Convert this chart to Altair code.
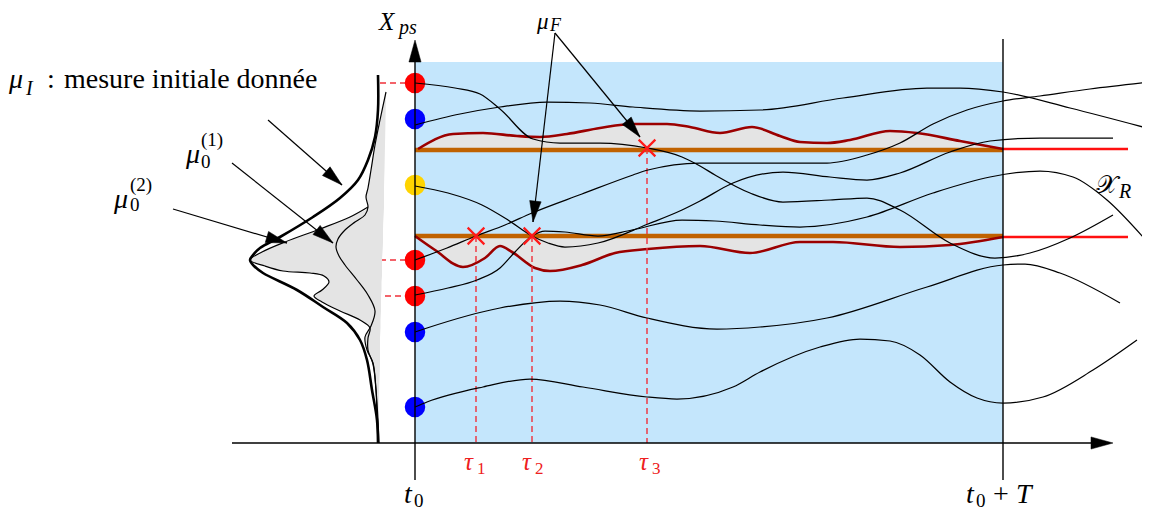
import altair as alt
import pandas as pd
import numpy as np

# ------------------------------------------------------------------
# Picture coordinates: x = pixels from the left, y = pixels from the top
# ------------------------------------------------------------------
W, H = 1134, 504          # plot area (page margin 8px)
T0_X, TT_X = 415, 1003    # t0 and t0+T
BASE_Y, TOP_Y = 443, 62   # time axis level, top of admissible region
BAND_LEVELS = [150, 236]  # the two target levels (orange)

# trajectories starting from the initial points
R1_x = [415, 455, 480, 500, 533, 560, 600, 647, 682, 700, 715, 750, 783, 830, 867, 900, 950, 995, 1030, 1070, 1113]
R1_y = [83, 88, 94, 109, 139, 143, 143, 148, 157, 166, 175, 193, 202, 200, 198, 210, 243, 258, 253, 238, 215]
B1_x = [415, 460, 500, 547, 590, 633, 700, 760, 843, 927, 960, 1003, 1070, 1143]
B1_y = [125, 114, 107, 102, 103, 107, 111, 110, 98, 88, 88, 92, 108, 127]
Y1_x = [415, 448, 482, 508, 532, 548, 565, 598, 648, 682, 700, 733, 783, 830, 867, 900, 950, 990, 1040, 1113]
Y1_y = [186, 193, 205, 220, 236, 243, 247, 243, 224, 210, 201, 183, 172, 177, 180, 173, 152, 141, 138, 138]
R2_x = [415, 447, 476, 505, 532, 582, 633, 648, 700, 780, 827, 867, 900, 933, 967, 1003, 1040, 1090, 1150]
R2_y = [260, 248, 236, 225, 213, 194, 175, 170, 163, 163, 163, 155, 143, 124, 110, 101, 96, 89, 82]
R3_x = [415, 448, 477, 500, 515, 532, 545, 565, 598, 632, 682, 715, 760, 800, 867, 933, 990, 1040, 1073, 1107, 1143]
R3_y = [295, 288, 280, 268, 252, 236, 231, 232, 236, 230, 220, 221, 225, 227, 217, 193, 177, 171, 177, 200, 237]
B2_x = [415, 427, 500, 560, 600, 647, 717, 760, 827, 927, 1003, 1025, 1060, 1120]
B2_y = [332, 328, 308, 301, 305, 318, 329, 327, 318, 287, 265, 264, 273, 303]
B3_x = [415, 427, 483, 530, 583, 647, 677, 733, 760, 820, 860, 890, 920, 950, 977, 1003, 1043, 1093, 1137]
B3_y = [407, 402, 387, 379, 387, 397, 399, 387, 372, 347, 339, 341, 355, 382, 398, 403, 397, 370, 340]

# boundaries of the two reachable sets (dark red)
UP_x = [418, 453, 483, 517, 540, 567, 600, 633, 667, 690, 720, 752, 780, 800, 827, 850, 890, 917, 960, 1003]
UP_y = [149, 134, 133, 136, 137, 134, 128, 124, 124, 127, 133, 127, 136, 142, 143, 140, 131, 133, 141, 149]
LO_x = [415, 435, 463, 485, 500, 512, 535, 550, 582, 615, 648, 700, 750, 800, 833, 900, 950, 1003]
LO_y = [236, 250, 267, 258, 246, 252, 268, 271, 265, 253, 249, 246, 253, 242, 242, 247, 245, 237]

# initial points on the X_ps axis
DOT_y = [83, 119, 185, 260, 296, 332, 407]
DOT_kind = ["cible", "libre", "autre", "cible", "cible", "libre", "libre"]

# hitting points and times
HIT_x = [476, 532, 647]
HIT_y = [236, 236, 148]

# initial measures (densities drawn along the X_ps axis)
MUI_x = [378, 378, 375, 368, 358, 340, 313, 280, 260, 253, 250, 254, 263, 297, 323, 347, 360, 367, 372, 377, 378]
MUI_y = [75, 110, 137, 160, 180, 198, 217, 237, 248, 255, 260, 266, 273, 290, 307, 323, 340, 360, 390, 420, 443]
MU1_x = [386, 380, 375, 371, 368, 366, 368, 365, 355, 345, 338, 336, 339, 345, 357, 368, 375, 371, 365, 367, 373, 376, 378, 379]
MU1_y = [92, 120, 145, 170, 188, 197, 207, 215, 222, 230, 239, 247, 256, 265, 280, 295, 311, 326, 337, 350, 363, 390, 420, 443]
MU2_x = [368, 350, 320, 285, 262, 250, 265, 283, 310, 324, 329, 322, 314, 322, 340, 360, 370, 368, 368, 373, 376, 377, 378]
MU2_y = [207, 217, 229, 242, 252, 260, 266, 271, 273, 276, 282, 290, 296, 302, 311, 320, 328, 338, 350, 364, 390, 420, 443]
GRAY_y = [92, 120, 145, 170, 188, 197, 207, 217, 229, 242, 252, 260, 266, 271, 273, 276, 282, 290, 296, 302, 311, 320, 328, 338, 350, 364, 390, 420]
GRAY_xl = [386, 380, 375, 371, 368, 366, 368, 350, 320, 285, 262, 250, 265, 283, 310, 324, 329, 322, 314, 322, 340, 360, 370, 365, 367, 373, 376, 378]
GRAY_xr = [386, 385.5, 385, 384.5, 384, 384, 384, 383.5, 383, 383, 382.5, 382, 382, 382, 382, 382, 381.5, 381.5, 381, 381, 381, 380.5, 380.5, 380, 380, 380, 379, 378.5]

# annotation arrows (start -> tip)
ARROWS = [(268, 120, 342, 185), (232, 163, 333, 243), (173, 209, 287, 243),
          (555, 33, 640, 137), (555, 33, 533, 222)]
AXIS_ARROWS = [(415, 80, 415, 40), (1080, 443, 1113, 443)]

# ------------------------------------------------------------------
XS = alt.Scale(domain=[8, 8 + W], nice=False, zero=False)
YS = alt.Scale(domain=[8, 8 + H], nice=False, zero=False, reverse=True)


def X(f="x"):
    return alt.X(f"{f}:Q", scale=XS, axis=None)


def Y(f="y"):
    return alt.Y(f"{f}:Q", scale=YS, axis=None)


def lines_df(d):
    rows = []
    for name, (xs, ys) in d.items():
        for i, (a, b) in enumerate(zip(xs, ys)):
            rows.append({"id": name, "o": i, "x": a, "y": b})
    return pd.DataFrame(rows)


def rules(rows, **kw):
    df = pd.DataFrame(rows, columns=["x", "y", "x2", "y2"])
    return alt.Chart(df).mark_rule(**kw).encode(
        x=X(), y=Y(), x2="x2:Q", y2="y2:Q")


ARROW_PATH = "M0,0L0.55,2L-0.55,2Z"


def heads(arr, size):
    rows = []
    for (x1, y1, x2, y2) in arr:
        ang = (np.degrees(np.arctan2(x2 - x1, -(y2 - y1))) + 360) % 360
        rows.append({"x": x2, "y": y2, "a": float(ang)})
    return alt.Chart(pd.DataFrame(rows)).mark_point(
        shape=ARROW_PATH, filled=True, fill="black", stroke="black",
        strokeWidth=0.5, opacity=1, size=size
    ).encode(x=X(), y=Y(), angle=alt.Angle("a:Q", scale=None))


def texts(rows, size, italic=False, color="black", font="Liberation Serif"):
    df = pd.DataFrame(rows, columns=["t", "x", "y"])
    kw = dict(font=font, fontSize=size, color=color, align="left",
              baseline="alphabetic")
    if italic:
        kw["fontStyle"] = "italic"
    return alt.Chart(df).mark_text(**kw).encode(x=X(), y=Y(), text="t:N")


# background region
rect = alt.Chart(pd.DataFrame({"x": [T0_X], "x2": [TT_X], "y": [TOP_Y], "y2": [BASE_Y]})).mark_rect(
    color="#c4e6fc").encode(x=X(), x2="x2:Q", y=Y(), y2="y2:Q")

# gray bands between the levels and the reachable-set boundaries
band_df = pd.concat([
    pd.DataFrame({"id": "up", "x": UP_x, "y": UP_y, "b": BAND_LEVELS[0]}),
    pd.DataFrame({"id": "lo", "x": LO_x, "y": LO_y, "b": BAND_LEVELS[1]}),
])
bands = alt.Chart(band_df).mark_area(color="#e4e4e4", interpolate="monotone", orient="vertical",
                                     opacity=1).encode(
    x=X(), y=Y(), y2="b:Q", detail="id:N")
bound_lines = alt.Chart(band_df).mark_line(color="#9b0000", strokeWidth=2.6, interpolate="monotone").encode(
    x=X(), y=Y(), detail="id:N")

orange = rules([(T0_X, BAND_LEVELS[0], TT_X, BAND_LEVELS[0]),
                (T0_X, BAND_LEVELS[1], TT_X, BAND_LEVELS[1])], color="#c06200", strokeWidth=4.5)
red_right = rules([(TT_X, 149, 1128, 149), (TT_X, 237, 1128, 237)], color="#ff1010", strokeWidth=2.6)

dashed = rules([(HIT_x[0], HIT_y[0], HIT_x[0], BASE_Y),
                (HIT_x[1], HIT_y[1], HIT_x[1], BASE_Y),
                (HIT_x[2], HIT_y[2], HIT_x[2], BASE_Y),
                (380, DOT_y[0], T0_X, DOT_y[0]),
                (250, DOT_y[3], T0_X, DOT_y[3]),
                (315, DOT_y[4], T0_X, DOT_y[4])],
               color="#f0303a", strokeWidth=1.4, strokeDash=[6, 4])

# left densities
gray_left = alt.Chart(pd.DataFrame({"y": GRAY_y, "xl": GRAY_xl, "xr": GRAY_xr})).mark_area(
    orient="horizontal", color="#e4e4e4", interpolate="monotone", opacity=1).encode(
    y=Y(), x=X("xl"), x2="xr:Q")
thin_dens = alt.Chart(lines_df({"m1": (MU1_x, MU1_y), "m2": (MU2_x, MU2_y)})).mark_line(
    color="black", strokeWidth=1.2, interpolate="catmull-rom").encode(
    x=X(), y=Y(), detail="id:N", order="o:Q")
thick_dens = alt.Chart(lines_df({"mi": (MUI_x, MUI_y)})).mark_line(
    color="black", strokeWidth=2.6, interpolate="catmull-rom").encode(
    x=X(), y=Y(), detail="id:N", order="o:Q")

# dots
dots = alt.Chart(pd.DataFrame({"x": [T0_X] * len(DOT_y), "y": DOT_y, "k": DOT_kind})).mark_circle(
    size=420, opacity=1).encode(
    x=X(), y=Y(),
    color=alt.Color("k:N", scale=alt.Scale(domain=["cible", "libre", "autre"],
                                           range=["#ff0000", "#0000ff", "#ffd400"]), legend=None))

# trajectories
traj = alt.Chart(lines_df({"R1": (R1_x, R1_y), "B1": (B1_x, B1_y), "Y1": (Y1_x, Y1_y),
                           "R2": (R2_x, R2_y), "R3": (R3_x, R3_y), "B2": (B2_x, B2_y),
                           "B3": (B3_x, B3_y)})).mark_line(
    color="black", strokeWidth=1.25, interpolate="monotone").encode(
    x=X(), y=Y(), detail="id:N", order="o:Q")

crosses = alt.Chart(pd.DataFrame({"x": HIT_x, "y": HIT_y})).mark_point(
    shape="M-1,-1L1,1M-1,1L1,-1", filled=False, color="#ff1a1a", strokeWidth=2.2, size=280,
    opacity=1).encode(x=X(), y=Y())

# axes
axes = rules([(T0_X, 55, T0_X, 480), (232, BASE_Y, 1095, BASE_Y), (TT_X, 39, TT_X, 480)],
             color="black", strokeWidth=1.4)
arrow_lines = rules([a for a in ARROWS], color="black", strokeWidth=1.2)
ax_heads = heads(AXIS_ARROWS, 484)
ann_heads = heads(ARROWS, 440)

# labels
t_it = texts([("μ", 9, 88), ("μ", 186, 163), ("μ", 114, 208),
              ("t", 404, 503), ("t", 966, 503), ("T", 1016, 503)], 28, italic=True)
t_top = texts([("X", 379, 30)], 25, italic=True)
t_muf = texts([("μ", 537, 29)], 23, italic=True)
t_up = texts([(":", 47, 88), ("mesure initiale donnée", 64, 88), ("+", 993, 503)], 28)
t_sub = texts([("0", 201, 168), ("(1)", 201, 146), ("0", 130, 211), ("(2)", 130, 191),
               ("0", 414, 507), ("0", 976, 507)], 19)
t_subit = texts([("I", 26, 95), ("ps", 399, 34), ("R", 1119, 198)], 20, italic=True)
t_fsub = texts([("F", 550, 31)], 18, italic=True)
t_tau = texts([("τ", 464, 470), ("τ", 522, 470), ("τ", 639, 470)], 25, italic=True, color="#ee2020")
t_tau_sub = texts([("1", 477, 474), ("2", 535, 474), ("3", 652, 474)], 17, color="#ee2020")
t_xr = texts([("𝒳", 1096, 193)], 25, font="DejaVu Serif")

chart = alt.layer(
    rect, bands, orange, bound_lines, red_right, dashed, gray_left, thin_dens, thick_dens,
    dots, traj, crosses, axes, arrow_lines, ax_heads, ann_heads,
    t_it, t_top, t_muf, t_up, t_sub, t_subit, t_fsub, t_tau, t_tau_sub, t_xr
).properties(
    width=W, height=H, padding=0, autosize=alt.AutoSizeParams(type="none"),
    background="white"
).configure_view(stroke=None)

chart.save("out.html", embed_options={"renderer": "svg", "actions": False})
